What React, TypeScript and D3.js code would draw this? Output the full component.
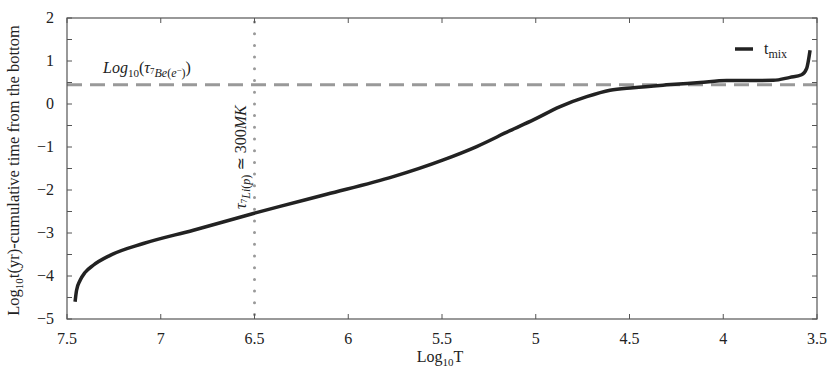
import React from 'react';
import * as d3 from 'd3';

// log10 T (decreasing toward the surface) vs log10 cumulative time
const logT = [7.457, 7.449, 7.43, 7.404, 7.36, 7.27, 7.093, 6.826, 6.506, 6.364, 6.115, 5.76, 5.493, 5.315, 5.137, 5.013, 4.87, 4.728, 4.604, 4.48, 4.302, 4.124, 3.982, 3.733, 3.644, 3.582, 3.555, 3.537];
const logTime = [-4.6, -4.33, -4.1, -3.92, -3.75, -3.52, -3.245, -2.935, -2.546, -2.38, -2.1, -1.69, -1.3, -0.99, -0.62, -0.37, -0.06, 0.17, 0.32, 0.38, 0.445, 0.5, 0.545, 0.55, 0.62, 0.68, 0.83, 1.25];

const xTicks = [7.5, 7, 6.5, 6, 5.5, 5, 4.5, 4, 3.5];
const yTicks = [2, 1, 0, -1, -2, -3, -4, -5];
const yMinorTicks = [1.5, 0.5, -0.5, -1.5, -2.5, -3.5, -4.5];

const beLevel = 0.445; // log10 tau 7Be(e-)
const liTemp = 6.5; // log10 T for 7Li(p) burning

const W = 830;
const H = 373;
const margin = { top: 18, right: 13, bottom: 54, left: 67 };
const FONT = 'Liberation Serif, DejaVu Serif, serif';

export default function App() {
  const x = d3.scaleLinear().domain([7.5, 3.5]).range([margin.left, W - margin.right]);
  const y = d3.scaleLinear().domain([-5, 2]).range([H - margin.bottom, margin.top]);
  const x0 = x.range()[0];
  const x1 = x.range()[1];
  const y0 = y.range()[0];
  const y1 = y.range()[1];

  const pts = logT.map((t, i) => [t, logTime[i]] as [number, number]);
  const line = d3
    .line<[number, number]>()
    .x((d) => x(d[0]))
    .y((d) => y(d[1]))
    .curve(d3.curveMonotoneX);

  const axisColor = '#555';
  const tick = 5;

  return (
    <svg width={W} height={H} style={{ position: 'absolute', left: 0, top: 0 }} fontFamily={FONT}>
      <rect width={W} height={H} fill="#fff" />

      {/* reference lines */}
      <line x1={x0} x2={x1} y1={y(beLevel)} y2={y(beLevel)} stroke="#999" strokeWidth={3} strokeDasharray="15 8" />
      <line x1={x(liTemp)} x2={x(liTemp)} y1={y1 + 4} y2={y0} stroke="#999" strokeWidth={3} strokeDasharray="0 11.7" strokeLinecap="round" />

      {/* curve */}
      <path d={line(pts) || ''} fill="none" stroke="#222" strokeWidth={3.5} strokeLinejoin="round" />

      {/* frame */}
      <rect x={x0} y={y1} width={x1 - x0} height={y0 - y1} fill="none" stroke={axisColor} strokeWidth={1.2} />

      {xTicks.map((t) => (
        <g key={'x' + t}>
          <line x1={x(t)} x2={x(t)} y1={y0} y2={y0 - tick} stroke={axisColor} />
          <line x1={x(t)} x2={x(t)} y1={y1} y2={y1 + tick} stroke={axisColor} />
          <text x={x(t)} y={344} textAnchor="middle" fontSize={16} fill="#222">
            {t}
          </text>
        </g>
      ))}

      {[...yTicks, ...yMinorTicks].map((t) => (
        <g key={'y' + t}>
          <line x1={x0} x2={x0 + tick} y1={y(t)} y2={y(t)} stroke={axisColor} />
          <line x1={x1} x2={x1 - tick} y1={y(t)} y2={y(t)} stroke={axisColor} />
        </g>
      ))}
      {yTicks.map((t) => (
        <text key={'yl' + t} x={54} y={y(t) + 5} textAnchor="end" fontSize={16} fill="#222">
          {t < 0 ? '\u2212' + Math.abs(t) : t}
        </text>
      ))}

      {/* axis titles */}
      <text x={440} y={362} textAnchor="middle" fontSize={16} fill="#222">
        Log<tspan fontSize={11} dy={4}>10</tspan>
        <tspan dy={-4}>T</tspan>
      </text>
      <text transform={`translate(19,${(y0 + y1) / 2 + 2}) rotate(-90)`} textAnchor="middle" fontSize={16.5} fill="#222">
        Log<tspan fontSize={11} dy={4}>10</tspan>
        <tspan dy={-4}>t(yr)-cumulative time from the bottom</tspan>
      </text>

      {/* annotation: 7Be electron capture timescale */}
      <text x={103} y={73} fontSize={16} fill="#222">
        <tspan fontStyle="italic">Log</tspan>
        <tspan fontSize={11} dy={4}>10</tspan>
        <tspan dy={-4}>(</tspan>
        <tspan fontStyle="italic">τ</tspan>
        <tspan fontSize={9} dy={1}>7</tspan>
        <tspan fontSize={12} fontStyle="italic" dy={3}>Be</tspan>
        <tspan fontSize={12}>(</tspan>
        <tspan fontSize={12} fontStyle="italic">e</tspan>
        <tspan fontSize={9} dy={-4}>−</tspan>
        <tspan fontSize={12} dy={4}>)</tspan>
        <tspan dy={-4}>)</tspan>
      </text>

      {/* annotation: 7Li proton capture */}
      <text transform={`translate(246,209) rotate(-90)`} fontSize={16} fill="#222">
        <tspan fontStyle="italic">τ</tspan>
        <tspan fontSize={9} dy={1}>7</tspan>
        <tspan fontSize={12} fontStyle="italic" dy={3}>Li</tspan>
        <tspan fontSize={12}>(</tspan>
        <tspan fontSize={12} fontStyle="italic">p</tspan>
        <tspan fontSize={12}>)</tspan>
        <tspan dy={-4}> ≃ 300</tspan>
        <tspan fontStyle="italic">MK</tspan>
      </text>

      {/* legend */}
      <line x1={735} x2={753} y1={49} y2={49} stroke="#222" strokeWidth={3.5} />
      <text x={764} y={54} fontSize={16} fill="#222">
        t<tspan fontSize={12} dy={4}>mix</tspan>
      </text>
    </svg>
  );
}
